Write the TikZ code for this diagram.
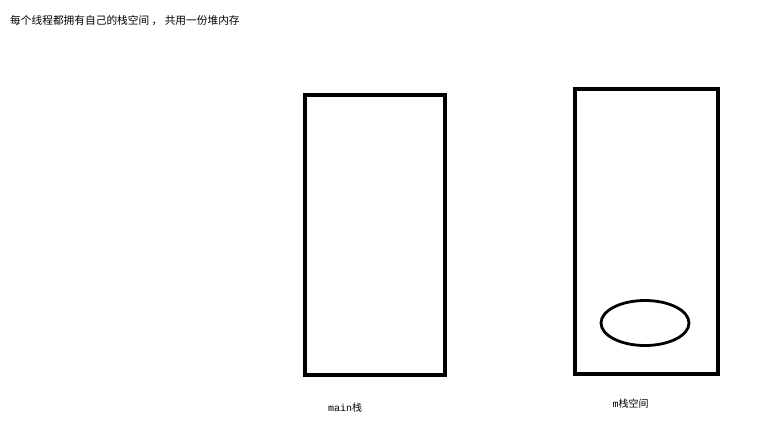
\documentclass[tikz,border=0pt]{standalone}
\usepackage{fontspec}
\setmonofont{Liberation Mono}
\newfontfamily\cjk{Noto Sans CJK SC}
\usetikzlibrary{shapes,positioning}

\begin{document}
\begin{tikzpicture}[x=1pt,y=-1pt,
  stackbox/.style={draw, line width=3.2pt, rectangle, inner sep=0pt},
  heapobj/.style={draw, line width=2.8pt, ellipse, inner sep=0pt, minimum width=88pt, minimum height=45pt},
  caption/.style={font=\fontsize{10}{12}\selectfont\cjk, inner sep=0pt}]
\def \w {140}
\def \h {280}

\useasboundingbox (0,0) rectangle (765,424);

\node[caption, anchor=west, font=\fontsize{10.7}{12}\selectfont\cjk] (title) at (10,21) {每个线程都拥有自己的栈空间 ， 共用一份堆内存};

\node[stackbox, minimum width=\w pt, minimum height=\h pt] (mainstack) at (375,235) {};
\node[stackbox, minimum width=143pt, minimum height=285pt] (mstack) at (646.5,231.5) {};
\node[heapobj] (obj) at (645,323) {};

\node[caption] (mainlabel) at (345,408) {{\ttfamily main}栈};
\node[caption] (mlabel) at (630.5,404) {{\ttfamily m}栈空间};
\end{tikzpicture}
\end{document}
